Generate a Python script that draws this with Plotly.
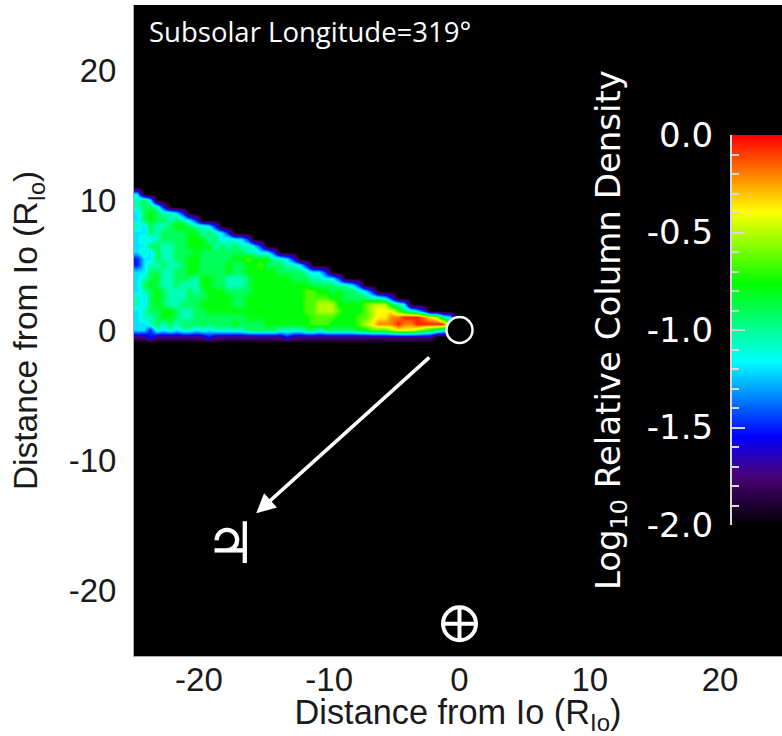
import plotly.graph_objects as go

# colour levels (log10 relative column density) used by the plume rows
level_by_char = {"0": -2.0, "p": -1.72, "1": -1.5, "2": -1.2, "3": -1.05, "4": -0.9, "5": -0.78,
                 "6": -0.65, "7": -0.5, "8": -0.38, "9": -0.2, "A": -0.05}

plume_y = [11, 10.5, 10, 9.5, 9, 8.5, 8, 7.5, 7, 6.5, 6, 5.5, 5, 4.5, 4, 3.5, 3, 2.5, 2, 1.5, 1, 0.5, 0, -0.5, -1]
plume_x = [-24.75 + 0.5 * i for i in range(50)]
plume_rows = [
    "",
    "2",
    "342",
    "34431",
    "24543321",
    "2454434321",
    "3243345543321",
    "224344445534321",
    "232344445553423221",
    "22443344555534343321",
    "2324334445444444433221",
    "1224334455444445565553321",
    "123343345544445445564443321",
    "224433445544445445555544443221",
    "23453344435544333455555544433221",
    "24543343335544333455555555544443321",
    "2345433343455544445555555566554544321",
    "3245433344455554455555555566665544443321",
    "324543344455555445555555556677755556777432",
    "234455433445555555555555556677765556788864321",
    "23345543344444444555555555566665556678899AAA98732",
    "2234343444444445444455555556665555678999A99AAAAA53",
    "22132323323233333444443333443444445566678887654321",
    "pp1pppppppp1ppppppppppp1pppppppppppppppppppppp0000",
    "",
]
plume_z = [[level_by_char[c] for c in r.ljust(50, "0")[:50]] for r in plume_rows]

scale_levels = [-2.0, -1.9, -1.8, -1.7, -1.6, -1.5, -1.4, -1.3, -1.2, -1.1, -1.0,
                -0.9, -0.8, -0.7, -0.6, -0.5, -0.4, -0.3, -0.2, -0.1, 0.0]
scale_ticks = [0.0, -0.5, -1.0, -1.5, -2.0]
scale_labels = ["0.0", "-0.5", "-1.0", "-1.5", "-2.0"]
axis_ticks = [-20, -10, 0, 10, 20]
axis_labels = ["-20", "-10", "0", "10", "20"]
axis_title = "Distance from Io (R<sub>Io</sub>)"
scale_title = "Log<sub>10</sub> Relative Column Density"
subsolar_text = "Subsolar Longitude=319°"
earth_pos = (0, -22.6)

rainbow = [[0, "#000000"], [0.13, "#4a007a"], [0.23, "#0000ff"], [0.42, "#00ffff"],
           [0.62, "#00ff00"], [0.805, "#ffff00"], [1, "#ff0000"]]

fig = go.Figure()
fig.add_trace(go.Heatmap(x=plume_x, y=plume_y, z=plume_z, zmin=-2, zmax=0, zsmooth="best",
                         colorscale=rainbow, showscale=False, hoverinfo="skip"))
fig.add_trace(go.Heatmap(x=[0, 1], y=scale_levels, z=[[v, v] for v in scale_levels], zmin=-2, zmax=0,
                         zsmooth="best", colorscale=rainbow, showscale=False, hoverinfo="skip",
                         xaxis="x2", yaxis="y2"))
fig.add_trace(go.Scatter(x=[earth_pos[0]], y=[earth_pos[1]], mode="markers", hoverinfo="skip",
                         marker=dict(symbol="circle-cross-open", size=33, color="white", line=dict(width=4, color="white"))))

fig.add_shape(type="circle", x0=-1, x1=1, y0=-1, y1=1, line=dict(color="white", width=2.5),
              fillcolor="rgba(0,0,0,1)", layer="above")
fig.add_annotation(x=-15.6, y=-14.1, ax=-2.2, ay=-2.0, xref="x", yref="y", axref="x", ayref="y",
                   text="", showarrow=True, arrowhead=2, arrowsize=1.1, arrowwidth=3.5, arrowcolor="white")
fig.add_annotation(x=-17.6, y=-16.4, xref="x", yref="y", text="♃", showarrow=False,
                   font=dict(family="DejaVu Sans", size=57, color="white"))
fig.add_annotation(xref="paper", yref="paper", x=0.0200, y=0.9595, xanchor="left", yanchor="middle",
                   text=subsolar_text, showarrow=False, font=dict(family="Open Sans", size=27.5, color="white"))

tick_font = dict(family="Liberation Sans", size=33, color="#1a1a1a")
fig.update_layout(
    width=782, height=736, autosize=False, showlegend=False,
    margin=dict(l=134, r=0, t=5, b=80, autoexpand=False),
    paper_bgcolor="white", plot_bgcolor="black",
    xaxis=dict(domain=[0, 1], range=[-24.98, 24.75], tickmode="array", tickvals=axis_ticks, ticktext=axis_labels,
               tickfont=tick_font, ticks="", automargin=False,
               showgrid=False, zeroline=False, showline=True, linecolor="#aaaaaa", linewidth=1,
               ticklabelstandoff=-6, title=dict(text=axis_title, font=dict(family="Liberation Sans", size=34.3, color="#1a1a1a"), standoff=8)),
    yaxis=dict(domain=[0, 1], range=[-25.08, 25], tickmode="array", tickvals=axis_ticks, ticktext=axis_labels,
               tickfont=tick_font, ticks="", automargin=False,
               showgrid=False, zeroline=False, showline=True, linecolor="#aaaaaa", linewidth=1,
               ticklabelstandoff=10, title=dict(text=axis_title, font=dict(family="Liberation Sans", size=33.5, color="#1a1a1a"), standoff=20)),
    xaxis2=dict(domain=[598 / 648, 1], range=[-0.5, 1.5], visible=False, anchor="y2", automargin=False),
    yaxis2=dict(domain=[0.2012, 0.8003], range=[-2, 0], anchor="x2", side="left", showgrid=False, zeroline=False,
                automargin=False, tickmode="array", tickvals=scale_ticks, ticktext=scale_labels, ticks="inside", ticklen=13,
                tickwidth=1.5, tickcolor="#d8d8d8", showline=True, linecolor="#d8d8d8", linewidth=2,
                minor=dict(dtick=0.1, ticks="inside", ticklen=7, tickcolor="#d8d8d8", tickwidth=1.5),
                tickfont=dict(family="DejaVu Sans", size=34, color="white"), ticklabelstandoff=10,
                title=dict(text=scale_title, font=dict(family="DejaVu Sans", size=34, color="white"), standoff=16)),
)
fig.write_html("out.html", config={"displayModeBar": False},
               post_script="document.body.style.margin='0';document.body.style.overflow='hidden';")
